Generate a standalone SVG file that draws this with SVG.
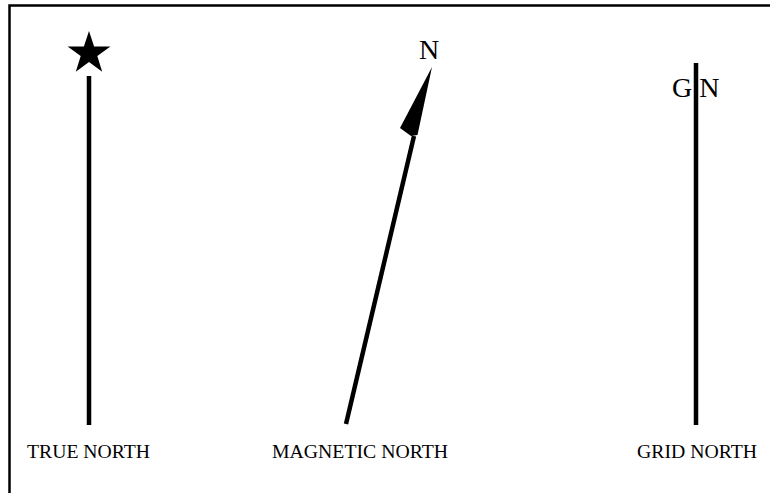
<svg xmlns="http://www.w3.org/2000/svg" width="770" height="493" viewBox="0 0 770 493">
<style>
.lbl{font-family:"Liberation Serif","Times New Roman",serif;font-size:19px;fill:#000}
.big{font-family:"Liberation Serif","Times New Roman",serif;font-size:28px;fill:#000}
.ln{stroke:#000;stroke-width:4.5;fill:none}
</style>
<rect x="0" y="0" width="770" height="493" fill="#fff"/>
<g id="frame"><path d="M9.5,500 V5.5 H780" fill="none" stroke="#000" stroke-width="2.5"/></g>
<g id="true-north">
<polygon points="89,31 94.1,46.5 110.4,46.5 97.3,56.1 102.2,71.7 89,62.1 75.8,71.7 80.7,56.1 67.6,46.5 83.9,46.5" fill="#000"/>
<line class="ln" x1="89" y1="76" x2="89" y2="425"/>
<text class="lbl" x="27" y="457.5" textLength="123" lengthAdjust="spacingAndGlyphs">TRUE NORTH</text>
</g>
<g id="magnetic-north">
<line class="ln" x1="346" y1="424" x2="414" y2="136"/>
<polygon points="432,67 400,128 411,136 417.5,135" fill="#000"/>
<text class="big" x="429" y="59" text-anchor="middle">N</text>
<text class="lbl" x="272" y="457.5" textLength="176" lengthAdjust="spacingAndGlyphs">MAGNETIC NORTH</text>
</g>
<g id="grid-north">
<line class="ln" x1="696" y1="63" x2="696" y2="425"/>
<text class="big" x="672" y="97">G<tspan dx="7">N</tspan></text>
<text class="lbl" x="637" y="457.5" textLength="120" lengthAdjust="spacingAndGlyphs">GRID NORTH</text>
</g>
</svg>
